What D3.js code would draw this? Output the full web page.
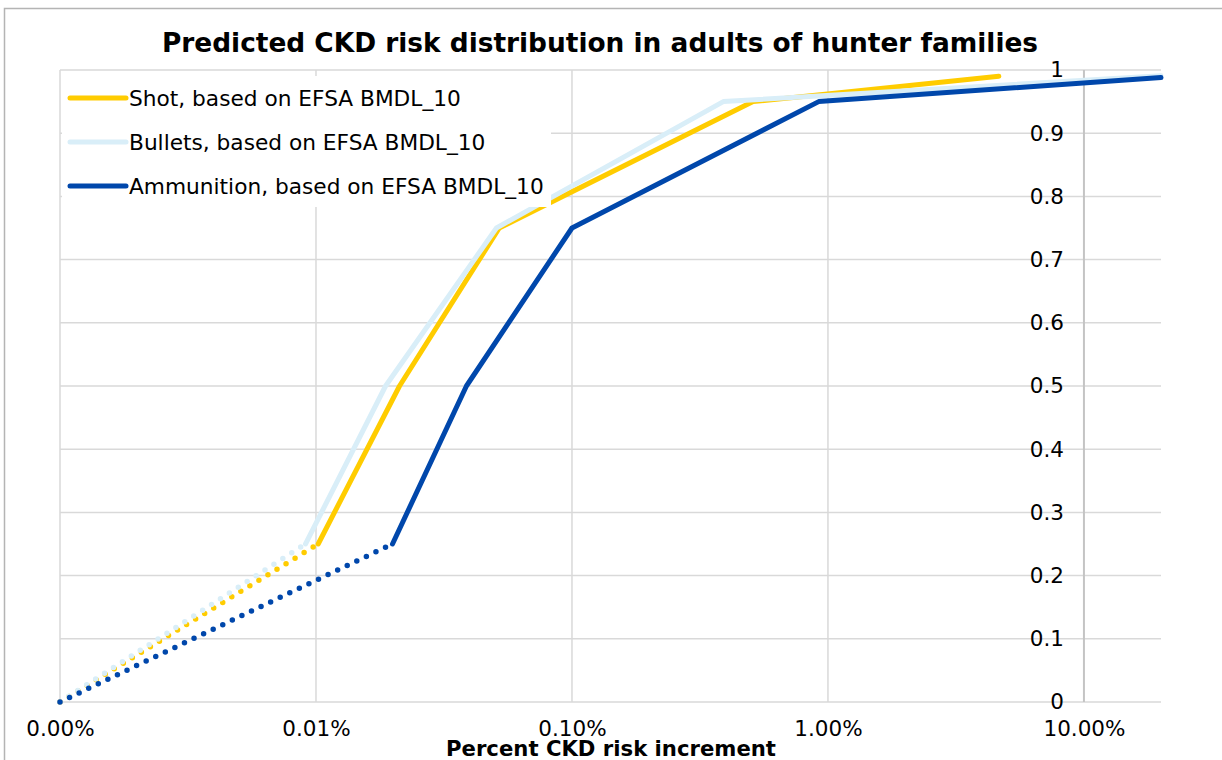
<!DOCTYPE html>
<html>
<head>
<meta charset="utf-8">
<script src="https://cdn.jsdelivr.net/npm/d3@7"></script>
<style>
  body { margin: 0; background: #ffffff; }
  text { font-family: "DejaVu Sans", Verdana, sans-serif; fill: #000000; }
</style>
</head>
<body>
<div id="chart"></div>
<script>
var svgWidth = 1222;
var svgHeight = 760;

// x values are percent CKD risk increment (log axis), y is cumulative share
var xTicks = [0.001, 0.01, 0.1, 1, 10];
var yTicks = [0, 0.1, 0.2, 0.3, 0.4, 0.5, 0.6, 0.7, 0.8, 0.9, 1];

var seriesNames = [
  "Shot, based on EFSA BMDL_10",
  "Bullets, based on EFSA BMDL_10",
  "Ammunition, based on EFSA BMDL_10"
];
var seriesColors = ["#ffcc00", "#d9eef8", "#0047ab"];

var shotX = [0.0102, 0.0212, 0.052, 0.51, 4.65];
var shotY = [0.25, 0.5, 0.75, 0.95, 0.99];

var bulletsX = [0.0091, 0.0187, 0.0507, 0.39, 20];
var bulletsY = [0.25, 0.5, 0.75, 0.95, 0.991];

var ammoX = [0.0199, 0.0387, 0.1, 0.92, 20];
var ammoY = [0.25, 0.5, 0.75, 0.95, 0.988];

// dotted part runs from this origin to each series' first point
var originX = 0.001;
var originY = 0;

var plot = { left: 60, right: 1161, top: 70, bottom: 702 };

var svg = d3
  .select("#chart")
  .append("svg")
  .attr("width", svgWidth)
  .attr("height", svgHeight);

// outer chart frame (cropped at right and bottom)
svg.append("rect")
   .attr("x", 4.5)
   .attr("y", 8.5)
   .attr("width", 1400)
   .attr("height", 900)
   .attr("fill", "none")
   .attr("stroke", "#b4b4b4")
   .attr("stroke-width", 1.5);

var xScale = d3.scaleLog()
               .domain([0.001, 20])
               .range([plot.left, plot.right]);

var yScale = d3.scaleLinear()
               .domain([0, 1])
               .range([plot.bottom, plot.top]);

// gridlines
svg.append("g")
   .selectAll("line")
   .data(yTicks)
   .enter()
   .append("line")
   .attr("x1", plot.left)
   .attr("x2", plot.right)
   .attr("y1", d => yScale(d))
   .attr("y2", d => yScale(d))
   .attr("stroke", "#d9d9d9")
   .attr("stroke-width", 1.5);

svg.append("g")
   .selectAll("line")
   .data(xTicks)
   .enter()
   .append("line")
   .attr("x1", d => xScale(d))
   .attr("x2", d => xScale(d))
   .attr("y1", plot.top)
   .attr("y2", plot.bottom)
   .attr("stroke", d => d === 10 ? "#c4c4c4" : "#d9d9d9")
   .attr("stroke-width", d => d === 10 ? 2 : 1.5);

// x axis labels
var bottomAxis = d3.axisBottom(xScale)
                   .tickValues(xTicks)
                   .tickSize(0)
                   .tickPadding(19)
                   .tickFormat(d => d3.format(".2f")(d) + "%");

svg.append("g")
   .attr("transform", `translate(0, ${plot.bottom})`)
   .call(bottomAxis)
   .call(g => g.select(".domain").remove())
   .selectAll("text")
   .style("font-size", "21.5px")
   .style("font-family", "'DejaVu Sans', Verdana, sans-serif");

// y axis sits at the 10% position, labels to its left
var leftAxis = d3.axisLeft(yScale)
                 .tickValues(yTicks)
                 .tickSize(0)
                 .tickPadding(20)
                 .tickFormat(d => d3.format("")(+d.toFixed(1)));

svg.append("g")
   .attr("transform", `translate(${xScale(10)}, 0)`)
   .call(leftAxis)
   .call(g => g.select(".domain").remove())
   .selectAll("text")
   .style("font-size", "21.5px")
   .style("font-family", "'DejaVu Sans', Verdana, sans-serif");

var series = [
  { xs: shotX, ys: shotY },
  { xs: bulletsX, ys: bulletsY },
  { xs: ammoX, ys: ammoY }
];

var line = d3.line()
             .x(d => xScale(d[0]))
             .y(d => yScale(d[1]));

// dotted lead-in segments
series.forEach(function(s, i) {
  svg.append("path")
     .datum([[originX, originY], [s.xs[0], s.ys[0]]])
     .attr("d", line)
     .attr("fill", "none")
     .attr("stroke", seriesColors[i])
     .attr("stroke-width", 5.5)
     .attr("stroke-linecap", "round")
     .attr("stroke-dasharray", "0 10.6");
});

// solid parts
series.forEach(function(s, i) {
  svg.append("path")
     .datum(s.xs.map((x, j) => [x, s.ys[j]]))
     .attr("d", line)
     .attr("fill", "none")
     .attr("stroke", seriesColors[i])
     .attr("stroke-width", 5)
     .attr("stroke-linejoin", "round")
     .attr("stroke-linecap", "round");
});

// legend box covers the plot
var legend = svg.append("g");

legend.append("rect")
      .attr("x", 62)
      .attr("y", 76)
      .attr("width", 489)
      .attr("height", 131)
      .attr("fill", "#ffffff");

var legendRows = legend.selectAll("g")
                       .data(seriesNames)
                       .enter()
                       .append("g")
                       .attr("transform", (d, i) => `translate(70, ${98 + i * 44})`);

legendRows.append("line")
          .attr("x1", 0)
          .attr("x2", 56)
          .attr("stroke", (d, i) => seriesColors[i])
          .attr("stroke-width", 5)
          .attr("stroke-linecap", "round");

legendRows.append("text")
          .attr("x", 59)
          .attr("dy", "0.36em")
          .style("font-size", "21.7px")
          .text(d => d);

// titles
svg.append("text")
   .attr("x", 600)
   .attr("y", 52)
   .attr("text-anchor", "middle")
   .style("font-size", "26.4px")
   .style("font-weight", "bold")
   .text("Predicted CKD risk distribution in adults of hunter families");

svg.append("text")
   .attr("x", 611)
   .attr("y", 756)
   .attr("text-anchor", "middle")
   .style("font-size", "21.2px")
   .style("font-weight", "bold")
   .text("Percent CKD risk increment");
</script>
</body>
</html>
